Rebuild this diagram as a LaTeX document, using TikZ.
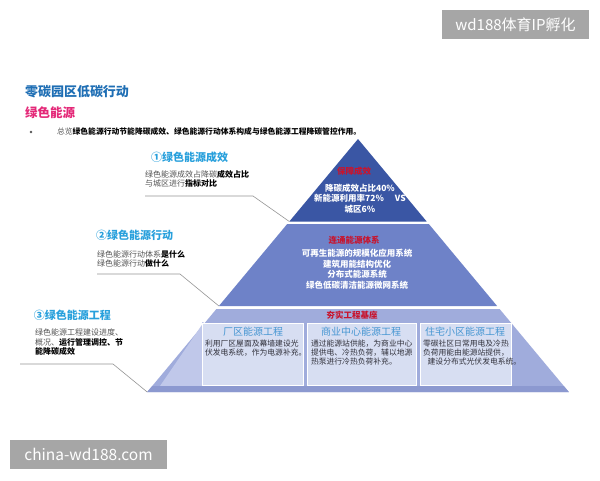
\documentclass[tikz,border=0pt]{standalone}
\usepackage{fontspec}
\setmainfont{Noto Sans CJK SC}
\definecolor{topblue}{RGB}{58,86,164}
\definecolor{midblue}{RGB}{110,130,200}
\definecolor{botblue}{RGB}{160,172,220}
\definecolor{botlight}{RGB}{192,200,234}
\definecolor{botdark}{RGB}{140,153,208}
\definecolor{boxfill}{RGB}{215,222,242}
\definecolor{redtxt}{RGB}{200,20,45}
\definecolor{boxtitle}{RGB}{70,150,210}
\definecolor{headblue}{RGB}{40,160,220}
\definecolor{titleblue}{RGB}{30,110,180}
\definecolor{pinktxt}{RGB}{228,40,120}
\definecolor{graytxt}{RGB}{85,85,85}
\definecolor{boxtxtcol}{RGB}{50,50,60}
\definecolor{leader}{RGB}{150,150,150}
\definecolor{wmgray}{RGB}{166,166,166}
\begin{document}
\begin{tikzpicture}[x=1pt,y=-1pt,
  every node/.style={inner sep=0pt, outer sep=0pt},
  pyrtxt/.style={text=white, font=\fontsize{8.5}{10.5}\selectfont\bfseries, align=center, anchor=north},
  redhead/.style={text=redtxt, font=\fontsize{8.5}{10}\selectfont\bfseries, anchor=center},
  boxhead/.style={text=boxtitle, font=\fontsize{10}{12}\selectfont, anchor=center},
  boxtxt/.style={text=boxtxtcol, font=\fontsize{7.8}{9}\selectfont, align=left, anchor=north west},
  enbox/.style={fill=boxfill, draw=white, line width=0.6pt},
  lefthead/.style={text=headblue, font=\fontsize{11}{13}\selectfont\bfseries, anchor=west},
  lefttxt/.style={text=graytxt, font=\fontsize{8}{8.9}\selectfont, align=left, anchor=north west},
  leaderline/.style={draw=leader, line width=0.6pt},
  wmbox/.style={fill=wmgray, text=white, inner xsep=0pt, anchor=center}
]
\useasboundingbox[fill=white] (0,0) rectangle (600,480);

% pyramid corners
\coordinate (apex) at (358,139);
\coordinate (tl) at (289.3,221.5);
\coordinate (tr) at (426.7,221.5);
\coordinate (ml1) at (287.2,224);
\coordinate (mr1) at (428.8,224);
\coordinate (ml2) at (218.9,306);
\coordinate (mr2) at (497.1,306);
\coordinate (bl1) at (216.4,309);
\coordinate (br1) at (499.6,309);
\coordinate (bl2) at (147.2,392);
\coordinate (br2) at (568.8,392);

% layers
\fill[topblue] (apex) -- (tr) -- (tl) -- cycle;
\fill[midblue] (ml1) -- (mr1) -- (mr2) -- (ml2) -- cycle;
\fill[botblue] (bl1) -- (br1) -- (br2) -- (bl2) -- cycle;
\fill[botlight] (203.9,322) -- (202,322) -- (202,386) -- (160,386) -- cycle;
\fill[botdark] (152.2,386) -- (563.8,386) -- (br2) -- (bl2) -- cycle;

% top layer text
\node[redhead] (t0) at (354,171) {保障成效};
\node[pyrtxt] (t1) at (360,183.7) {降碳成效占比40\%\\新能源利用率72\%\hspace{1.3em}VS\\城区6\%};

% middle layer text
\node[redhead] (m0) at (354,240) {连通能源体系};
\node[pyrtxt] (m1) at (357,249.2) {可再生能源的规模化应用系统\\建筑用能结构优化\\分布式能源系统\\绿色低碳清洁能源微网系统};

% bottom layer
\node[redhead] (b0) at (352,315) {夯实工程基座};
\draw[enbox] (202,323) rectangle (303,385);
\draw[enbox] (307,323) rectangle (416,385);
\draw[enbox] (420,323) rectangle (511,385);
\node[boxhead] (h1) at (253,332) {厂区能源工程};
\node[boxhead] (h2) at (361,332) {商业中心能源工程};
\node[boxhead] (h3) at (465,332) {住宅小区能源工程};
\node[boxtxt] (x1) at (205,340) {利用厂区屋面及幕墙建设光\\伏发电系统，作为电源补充。};
\node[boxtxt] (x2) at (311,340) {通过能源站供能，为商业中心\\提供电、冷热负荷，辅以地源\\热泵进行冷热负荷补充。};
\node[boxtxt] (x3) at (423,340) {零碳社区日常用电及冷热\\负荷用能由能源站提供，\\\hspace{0.6em}建设分布式光伏发电系统。};

% title area
\node[anchor=west, text=titleblue, font=\fontsize{13}{15}\selectfont\bfseries] (title) at (25,92) {零碳园区低碳行动};
\node[anchor=west, text=pinktxt, font=\fontsize{12.5}{15}\selectfont\bfseries] (sub) at (25,113) {绿色能源};
\fill[graytxt] (31,132) circle (1.3);
\node[anchor=west, font=\fontsize{7.8}{9}\selectfont] (intro) at (57,132) {\textcolor{graytxt}{总览}\textbf{绿色能源行动节能降碳成效、绿色能源行动体系构成与绿色能源工程降碳管控作用。}};

% left annotations
\node[lefthead] (l1) at (151,157) {①绿色能源成效};
\node[lefttxt] (l1t) at (145,171) {绿色能源成效占降碳\textcolor{black}{\textbf{成效占比}}\\与城区进行\textcolor{black}{\textbf{指标对比}}};
\coordinate (c1a) at (145,196);
\coordinate (c1b) at (253,196);
\draw[leaderline] (c1a) -- (c1b) -- (tl);

\node[lefthead] (l2) at (96,235) {②绿色能源行动};
\node[lefttxt] (l2t) at (97,251) {绿色能源行动体系\textcolor{black}{\textbf{是什么}}\\绿色能源行动\textcolor{black}{\textbf{做什么}}};
\coordinate (c2a) at (97,274);
\coordinate (c2b) at (180,274);
\draw[leaderline] (c2a) -- (c2b) -- (ml2);

\node[lefthead] (l3) at (34,315) {③绿色能源工程};
\node[lefttxt, font=\fontsize{8}{9.4}\selectfont] (l3t) at (35,329) {绿色能源工程建设进度、\\概况、\textcolor{black}{\textbf{运行管理调控、节}}\\\textcolor{black}{\textbf{能降碳成效}}};
\coordinate (c3a) at (20,364);
\coordinate (c3b) at (113,364);
\draw[leaderline] (c3a) -- (c3b) -- (bl2);

% watermarks
\fill[wmgray] (442,10) rectangle (589,39);
\node[text=white, font=\fontsize{15}{17}\selectfont] (wm1) at (515.5,24.5) {wd188体育IP孵化};
\fill[wmgray] (10,440) rectangle (167,469);
\node[text=white, font=\fontsize{15.5}{17}\selectfont] (wm2) at (88.5,454.5) {china-wd188.com};
\end{tikzpicture}
\end{document}
